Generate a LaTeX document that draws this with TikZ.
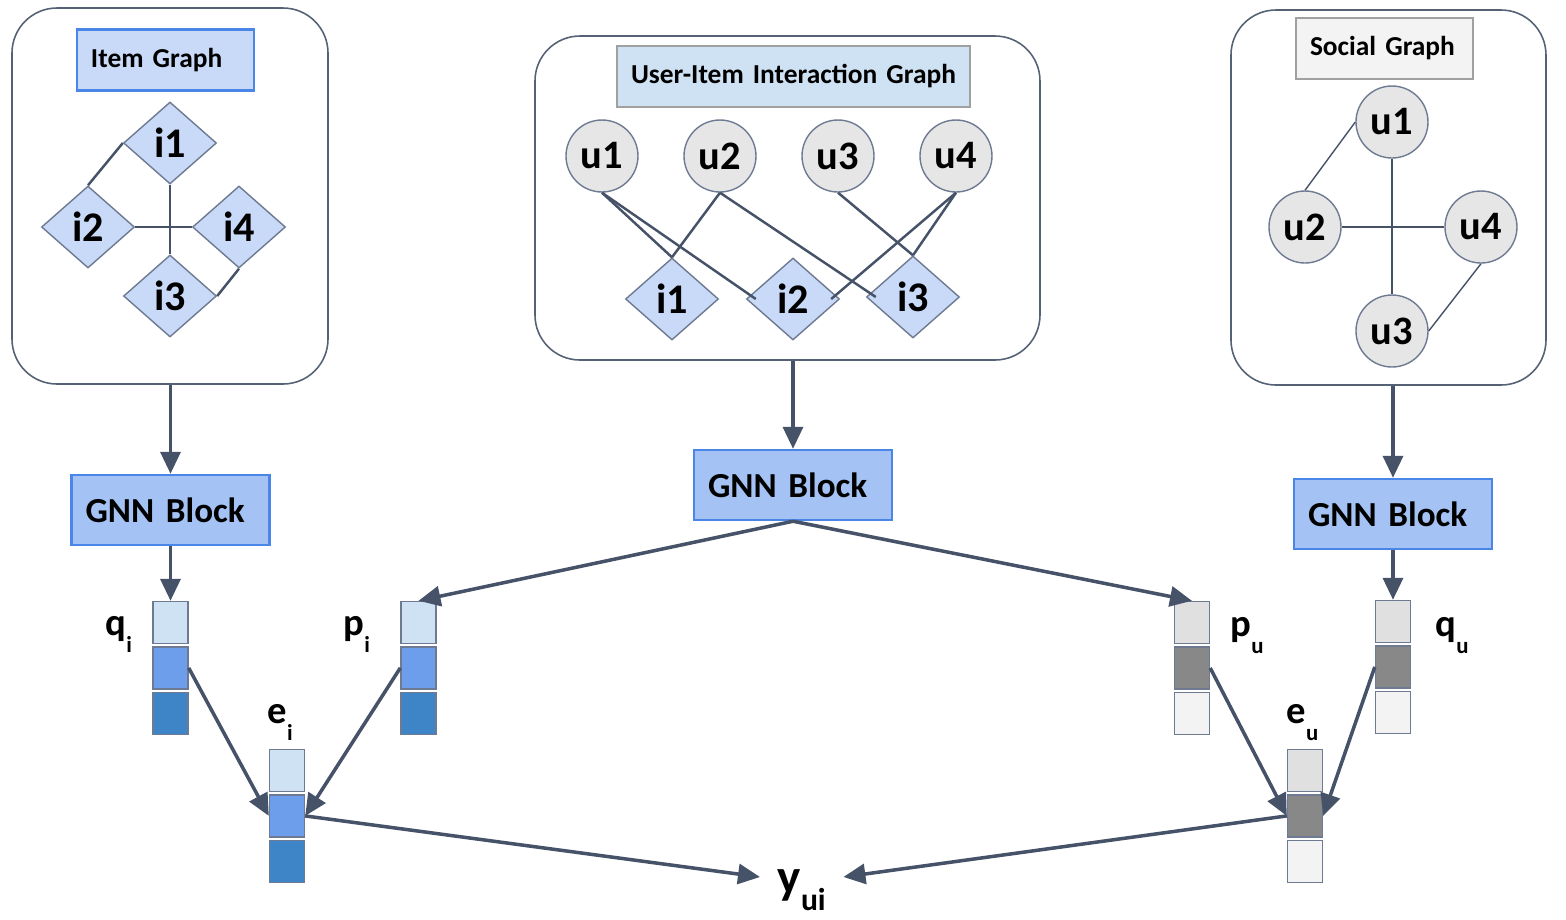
\documentclass[tikz,border=0pt]{standalone}
\usepackage{fontspec}
\setmainfont{Carlito}
\usetikzlibrary{shapes.geometric, positioning, arrows.meta}

\definecolor{edgec}{RGB}{69,82,104}
\definecolor{framec}{RGB}{85,97,116}
\definecolor{nodeline}{RGB}{110,122,145}
\definecolor{itemfill}{RGB}{201,218,248}
\definecolor{userfill}{RGB}{230,230,230}
\definecolor{gnnfill}{RGB}{164,194,244}
\definecolor{gnnline}{RGB}{74,134,232}
\definecolor{titlegray}{RGB}{160,160,160}
\definecolor{bluea}{RGB}{207,226,243}
\definecolor{blueb}{RGB}{109,158,235}
\definecolor{bluec}{RGB}{61,133,198}
\definecolor{graya}{RGB}{224,224,224}
\definecolor{grayb}{RGB}{136,136,136}
\definecolor{grayc}{RGB}{243,243,243}

\tikzset{
  graphframe/.style={draw=framec, line width=0.45pt, rounded corners=0.45cm},
  titlebox/.style={line width=0.7pt, inner xsep=0.14cm, align=left, minimum height=0.61cm, font=\fontsize{7.8}{9}\selectfont\bfseries},
  gnn/.style={draw=gnnline, fill=gnnfill, line width=0.7pt, minimum height=0.70cm, text width=1.70cm, inner xsep=0.14cm, align=left, font=\fontsize{10}{12}\selectfont\bfseries},
  item/.style={diamond, draw=nodeline, fill=itemfill, line width=0.4pt, minimum width=0.93cm, minimum height=0.82cm, inner sep=0pt, font=\fontsize{12}{14}\selectfont\bfseries},
  user/.style={circle, draw=nodeline, fill=userfill, line width=0.4pt, minimum size=0.72cm, inner sep=0pt, font=\fontsize{11.5}{13}\selectfont\bfseries},
  cell/.style={draw=nodeline, line width=0.4pt, minimum width=0.35cm, minimum height=0.42cm, inner sep=0pt},
  link/.style={draw=edgec, line width=0.7pt},
  thinlink/.style={draw=edgec, line width=0.4pt},
  flow/.style={draw=edgec, line width=1pt, -{Triangle[length=0.22cm, width=0.2cm]}},
  vlabel/.style={inner sep=0pt, anchor=base west, font=\fontsize{11}{13}\selectfont\bfseries}
}

\newcommand{\sub}[1]{\raisebox{-5pt}{\fontsize{6.5}{7}\selectfont #1}}
\newcommand{\embcells}[6]{%
  \node[cell, fill=#4] at (#2,#3) (#1a) {};
  \node[cell, fill=#5, below=0.02cm of #1a] (#1b) {};
  \node[cell, fill=#6, below=0.02cm of #1b] (#1c) {};
}

\begin{document}
\begin{tikzpicture}
  \useasboundingbox (0,0) rectangle (15.66,-9.2);

  \node[graphframe, minimum width=3.16cm, minimum height=3.76cm] at (1.70,-1.96) (itemgraph) {};
  \node[titlebox, draw=gnnline, fill=itemfill, text width=1.49cm] at (1.655,-0.60) (itemtitle) {Item Graph};
  \node[item] at (1.70,-1.43) (li1) {i1};
  \node[item] at (0.88,-2.27) (li2) {i2};
  \node[item] at (2.39,-2.27) (li4) {i4};
  \node[item] at (1.70,-2.96) (li3) {i3};
  \draw[link] (li1.west) -- (li2.north);
  \draw[link] (li1.south) -- (li3.north);
  \draw[link] (li2.east) -- (li4.west);
  \draw[link] (li4.south) -- (li3.east);

  \node[graphframe, minimum width=5.05cm, minimum height=3.24cm] at (7.875,-1.98) (uigraph) {};
  \node[titlebox, draw=titlegray, fill=bluea, text width=3.37cm, inner xsep=0.08cm] at (7.935,-0.765) (uititle) {\hspace{0.06cm}User-Item Interaction Graph};
  \node[user] at (6.02,-1.56) (mu1) {u1};
  \node[user] at (7.20,-1.56) (mu2) {u2};
  \node[user] at (8.38,-1.56) (mu3) {u3};
  \node[user] at (9.56,-1.56) (mu4) {u4};
  \node[item] at (6.72,-2.99) (mi1) {i1};
  \node[item] at (7.93,-2.99) (mi2) {i2};
  \node[item] at (9.13,-2.97) (mi3) {i3};
  \draw[link] (mu1.south) -- (mi1.north);
  \draw[link] (mu1.south) -- ([xshift=0.1cm]mi2.west);
  \draw[link] (mu2.south) -- (mi1.north);
  \draw[link] (mu2.south) -- ([xshift=0.1cm]mi3.west);
  \draw[link] (mu3.south) -- (mi3.north);
  \draw[link] (mu4.south) -- ([xshift=-0.09cm]mi2.east);
  \draw[link] (mu4.south) -- (mi3.north);

  \node[graphframe, minimum width=3.15cm, minimum height=3.75cm] at (13.885,-1.975) (socialgraph) {};
  \node[titlebox, draw=titlegray, fill=grayc, text width=1.49cm] at (13.845,-0.485) (socialtitle) {Social Graph};
  \node[user] at (13.92,-1.22) (su1) {u1};
  \node[user] at (13.05,-2.27) (su2) {u2};
  \node[user] at (14.81,-2.27) (su4) {u4};
  \node[user] at (13.92,-3.31) (su3) {u3};
  \draw[link] (su1.south) -- (su3.north);
  \draw[thinlink] (su2.east) -- (su4.west);
  \draw[thinlink] (su1.west) -- (su2.north);
  \draw[thinlink] (su4.south) -- (su3.east);

  \node[gnn] at (1.705,-5.10) (gnnI) {GNN Block};
  \node[gnn] at (7.93,-4.85) (gnnM) {GNN Block};
  \node[gnn] at (13.93,-5.14) (gnnS) {GNN Block};

  \draw[flow] (gnnI.north |- itemgraph.south) -- (gnnI.north);
  \draw[flow] (gnnM.north |- uigraph.south) -- (gnnM.north);
  \draw[flow] (gnnS.north |- socialgraph.south) -- (gnnS.north);

  \embcells{qi}{1.705}{-6.225}{bluea}{blueb}{bluec}
  \embcells{pi}{4.185}{-6.225}{bluea}{blueb}{bluec}
  \embcells{ei}{2.87}{-7.705}{bluea}{blueb}{bluec}
  \embcells{pu}{11.92}{-6.225}{graya}{grayb}{grayc}
  \embcells{qu}{13.93}{-6.215}{graya}{grayb}{grayc}
  \embcells{eu}{13.05}{-7.705}{graya}{grayb}{grayc}

  \node[vlabel] at (1.05,-6.35) (qilabel) {q\sub{i}};
  \node[vlabel] at (3.43,-6.35) (pilabel) {p\sub{i}};
  \node[vlabel] at (2.67,-7.23) (eilabel) {e\sub{i}};
  \node[vlabel] at (12.30,-6.36) (pulabel) {p\sub{u}};
  \node[vlabel] at (14.35,-6.36) (qulabel) {q\sub{u}};
  \node[vlabel] at (12.86,-7.23) (eulabel) {e\sub{u}};
  \node[vlabel, font=\fontsize{14}{16}\selectfont\bfseries] at (7.77,-8.93) (yui) {y\raisebox{-5pt}{\fontsize{9}{10}\selectfont ui}};

  \draw[flow] (gnnI.south) -- (qia.north);
  \draw[flow] (gnnM.south) -- (pia.north);
  \draw[flow] (gnnM.south) -- (pua.north);
  \draw[flow] (gnnS.south) -- (qua.north);
  \draw[flow] (qib.east) -- (eib.west);
  \draw[flow] (pib.west) -- (eib.east);
  \draw[flow] (pub.east) -- (eub.west);
  \draw[flow] (qub.west) -- (eub.east);
  \draw[flow] (eib.east) -- ([shift={(-0.17,0.13)}]yui.west);
  \draw[flow] (eub.west) -- ([shift={(0.17,0.13)}]yui.east);
\end{tikzpicture}
\end{document}
